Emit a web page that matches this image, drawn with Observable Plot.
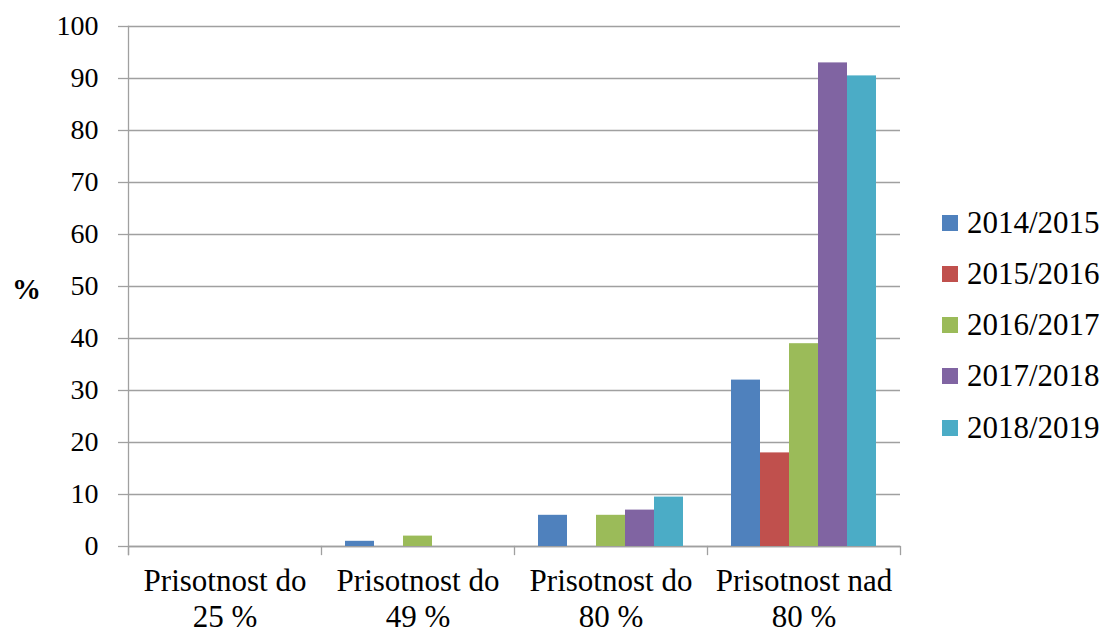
<!DOCTYPE html>
<html><head><meta charset="utf-8">
<script src="https://cdn.jsdelivr.net/npm/d3@7"></script>
<script src="https://cdn.jsdelivr.net/npm/@observablehq/plot@0.6"></script>
<style>
body{margin:0;background:#fff;}
#wrap{position:relative;width:1102px;height:633px;font-family:"Liberation Serif","Times New Roman",serif;color:#000;}
#ylab{position:absolute;left:12px;top:270px;font-size:29px;font-weight:bold;line-height:38px;}
#legend{position:absolute;left:942px;top:197px;}
.row{display:flex;align-items:center;height:51.25px;font-size:31px;white-space:nowrap;}
.sw{width:16px;height:16px;margin-right:9px;flex:none;}
</style></head><body><div id="wrap"><div id="ylab">%</div><div id="legend"></div></div>
<script>
const categories = ["Prisotnost do\n25 %", "Prisotnost do\n49 %", "Prisotnost do\n80 %", "Prisotnost nad\n80 %"];
const seasons = ["2014/2015", "2015/2016", "2016/2017", "2017/2018", "2018/2019"];
const v2014_2015 = [0, 1, 6, 32];
const v2015_2016 = [0, 0, 0, 18];
const v2016_2017 = [0, 2, 6, 39];
const v2017_2018 = [0, 0, 7, 93];
const v2018_2019 = [0, 0, 9.5, 90.5];
const colors = ["#4f81bd", "#c0504d", "#9bbb59", "#8064a2", "#4bacc6"];
const yTicks = [0, 10, 20, 30, 40, 50, 60, 70, 80, 90, 100];

const series = [v2014_2015, v2015_2016, v2016_2017, v2017_2018, v2018_2019];
const data = [];
categories.forEach((c, i) => seasons.forEach((s, j) => data.push({category: c, season: s, value: series[j][i]})));

const axisColor = "#a0a0a0";
const chart = Plot.plot({
  width: 1102, height: 633,
  marginLeft: 128, marginRight: 202, marginTop: 26, marginBottom: 87,
  style: {fontFamily: '"Liberation Serif","Times New Roman",serif', fontSize: "28px", color: "#000", background: "transparent"},
  fx: {domain: categories, padding: 0, label: null},
  x: {domain: seasons, paddingInner: 0, paddingOuter: 0.75, axis: null},
  y: {domain: [0, 100], label: null},
  color: {domain: seasons, range: colors},
  marks: [
    Plot.gridY(yTicks, {stroke: axisColor, strokeOpacity: 1, strokeWidth: 1.3}),
    Plot.ruleY([0], {stroke: axisColor, strokeWidth: 1.3}),
    Plot.barY(data, {fx: "category", x: "season", y: "value", fill: "season"}),
    Plot.frame({anchor: "left", facetAnchor: "left", insetBottom: -8, stroke: axisColor, strokeWidth: 1.3}),
    Plot.frame({anchor: "left", insetTop: 520, insetBottom: -8, stroke: axisColor, strokeWidth: 1.3}),
    Plot.frame({anchor: "right", facetAnchor: "right", insetTop: 520, insetBottom: -8, stroke: axisColor, strokeWidth: 1.3}),
    Plot.axisY(yTicks, {anchor: "left", tickSize: 10, tickPadding: 20, stroke: axisColor, strokeWidth: 1.3, fill: "#000", fontSize: 28, label: null}),
    Plot.axisFx({anchor: "bottom", tickSize: 0, tickPadding: 19, lineHeight: 1.16, fontSize: 31, fill: "#000", label: null})
  ]
});
chart.style.position = "absolute";
chart.style.left = "0px";
chart.style.top = "0px";
document.getElementById("wrap").prepend(chart);

const legend = document.getElementById("legend");
seasons.forEach((s, i) => {
  const row = document.createElement("div");
  row.className = "row";
  const sw = document.createElement("div");
  sw.className = "sw";
  sw.style.background = colors[i];
  const t = document.createElement("span");
  t.textContent = s;
  row.appendChild(sw);
  row.appendChild(t);
  legend.appendChild(row);
});
</script>
</body></html>
